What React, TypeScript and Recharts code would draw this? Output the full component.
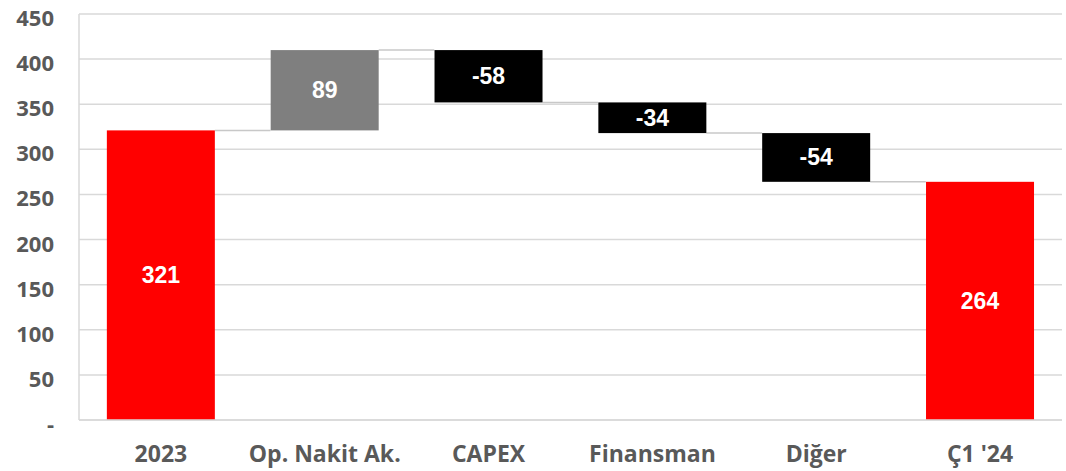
import React from "react";
import { BarChart, Bar, XAxis, YAxis, CartesianGrid, LabelList, Cell } from "recharts";

const categories = ["2023", "Op. Nakit Ak.", "CAPEX", "Finansman", "Diğer", "Ç1 '24"];
const values = [321, 89, -58, -34, -54, 264];
const kinds = ["total", "delta", "delta", "delta", "delta", "total"];
const colors = ["#ff0000", "#7f7f7f", "#000000", "#000000", "#000000", "#ff0000"];
const yTicks = [0, 50, 100, 150, 200, 250, 300, 350, 400, 450];

const GAP = 0.17;

let running = 0;
const data = categories.map((name, i) => {
  const v = values[i];
  let low: number, high: number, end: number;
  if (kinds[i] === "total") {
    low = 0;
    high = v;
    end = v;
  } else {
    const start = running;
    end = running + v;
    low = Math.min(start, end);
    high = Math.max(start, end);
  }
  running = end;
  return {
    name,
    range: [low, high],
    label: String(v),
    dir: v >= 0 ? "up" : "down",
    last: i === categories.length - 1,
  };
});

const WaterfallShape = (props: any) => {
  const { x, y, width, height, fill, payload } = props;
  const top = Math.min(y, y + height);
  const h = Math.abs(height);
  const gap = (width * (2 * GAP)) / (1 - 2 * GAP);
  const ly = payload.dir === "up" ? top : top + h;
  return (
    <g>
      {!payload.last && (
        <line x1={x + width} x2={x + width + gap} y1={ly} y2={ly} stroke="#c8c8c8" strokeWidth={1.5} />
      )}
      <rect x={x} y={top} width={width} height={h} fill={fill} />
    </g>
  );
};

const renderLabel = (props: any) => {
  const { x, y, width, height, value } = props;
  const cy = Math.min(y, y + height) + Math.abs(height) / 2;
  return (
    <text
      x={x + width / 2}
      y={cy}
      textAnchor="middle"
      dominantBaseline="central"
      fill="#ffffff"
      fontFamily="'Liberation Sans', Arial, sans-serif"
      fontWeight="bold"
      fontSize={23}
    >
      {value}
    </text>
  );
};

const tickStyle = { fill: "#595959", fontSize: 23, fontWeight: 700, fontFamily: "'Open Sans', sans-serif" };

const YTick = (props: any) => {
  const { x, y, payload } = props;
  const v = payload.value as number;
  return (
    <text
      x={x}
      y={y + 3}
      textAnchor="end"
      dominantBaseline="central"
      fill="#595959"
      fontSize={22}
      fontWeight={700}
      fontFamily="'Open Sans', sans-serif"
    >
      {v === 0 ? "-" : String(v)}
    </text>
  );
};

export default function App() {
  return (
    <div style={{ position: "absolute", left: 0, top: 0, background: "#fff" }}>
      <BarChart
        width={1066}
        height={471}
        data={data}
        margin={{ top: 14, right: 4, bottom: 0, left: 0 }}
        barCategoryGap={`${GAP * 100}%`}
      >
        <CartesianGrid vertical={false} stroke="#d9d9d9" strokeWidth={1.5} />
        <XAxis
          dataKey="name"
          height={51}
          axisLine={{ stroke: "#d9d9d9", strokeWidth: 1.5 }}
          tickLine={false}
          tickMargin={20}
          tick={tickStyle}
          interval={0}
        />
        <YAxis
          width={79}
          domain={[0, 450]}
          ticks={yTicks}
          interval={0}
          axisLine={{ stroke: "#d9d9d9", strokeWidth: 1.5 }}
          tickLine={false}
          tickMargin={19}
          tick={<YTick />}
        />
        <Bar dataKey="range" isAnimationActive={false} shape={WaterfallShape}>
          {data.map((d, i) => (
            <Cell key={d.name} fill={colors[i]} />
          ))}
          <LabelList dataKey="label" content={renderLabel} />
        </Bar>
      </BarChart>
    </div>
  );
}
